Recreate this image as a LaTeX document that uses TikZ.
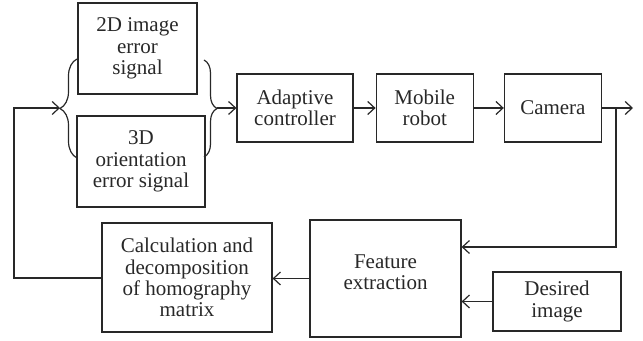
\documentclass[tikz,border=0pt]{standalone}
\usepackage{fontspec}
\setmainfont{Liberation Serif}
\usepackage{tikz}
\usetikzlibrary{positioning, arrows.meta, decorations.pathreplacing}
\usepackage{xcolor}
\definecolor{ink}{RGB}{40, 40, 40}

\begin{document}
\begin{tikzpicture}[
  x=0.5pt, y=-0.5pt,
  box/.style={draw=ink, line width=0.6pt, align=center, inner sep=1pt,
              text=ink, font=\fontsize{10.5}{10.6}\selectfont},
  wire/.style={draw=ink, line width=0.6pt},
  >={Straight Barb[length=3.5pt, width=6.5pt]}
]
  \useasboundingbox (0,0) rectangle (643,341);

  % error signals
  \node[box, minimum width=59.5pt, minimum height=45.5pt] (err2d) at (137.5,48.5)
    {2D image\\error\\signal};
  \node[box, minimum width=64pt, minimum height=45.5pt] (err3d) at (141,161.5)
    {3D\\orientation\\error signal};
  \draw[wire, decorate, decoration={brace, amplitude=8.5pt}] (77,158) -- (77,59);
  \draw[wire, decorate, decoration={brace, amplitude=6.5pt}] (204,60) -- (204,157);
  \coordinate (lb) at (60,108);
  \coordinate (rb) at (217,108);

  % forward path
  \node[box, minimum width=58pt, minimum height=34pt] (ctrl) at (295,108)
    {Adaptive\\controller};
  \node[box, minimum width=48.5pt, minimum height=34pt, right=11pt of ctrl] (robot)
    {Mobile\\robot};
  \node[box, minimum width=48.5pt, minimum height=34pt, right=15pt of robot] (cam)
    {Camera};
  \coordinate (out) at (633,108);
  \coordinate (br) at (616,108);

  % feedback path
  \node[box, minimum width=85pt, minimum height=54.5pt] (homog) at (187,277.5)
    {Calculation and\\decomposition\\of homography\\matrix};
  \node[box, minimum width=75.5pt, minimum height=58.5pt, text depth=6pt] (feat)
    at (385.5,278.5) {Feature\\extraction};
  \node[box, minimum width=64pt, minimum height=29.5pt] (desired) at (557,301.5)
    {Desired\\image};
  \coordinate (fb) at (14,278);

  \draw[wire, ->] (rb) -- (ctrl.west);
  \draw[wire, ->] (ctrl) -- (robot);
  \draw[wire, ->] (robot) -- (cam);
  \draw[wire, ->] (cam) -- (out);
  \draw[wire, ->] (br) |- ([yshift=15.75pt]feat.east);
  \draw[wire, ->] (desired) -- (desired -| feat.east);
  \draw[wire, ->] (feat.west) -- (feat.west -| homog.east);
  \draw[wire, ->] (homog.west |- fb) -- (fb) |- (lb);
\end{tikzpicture}
\end{document}
